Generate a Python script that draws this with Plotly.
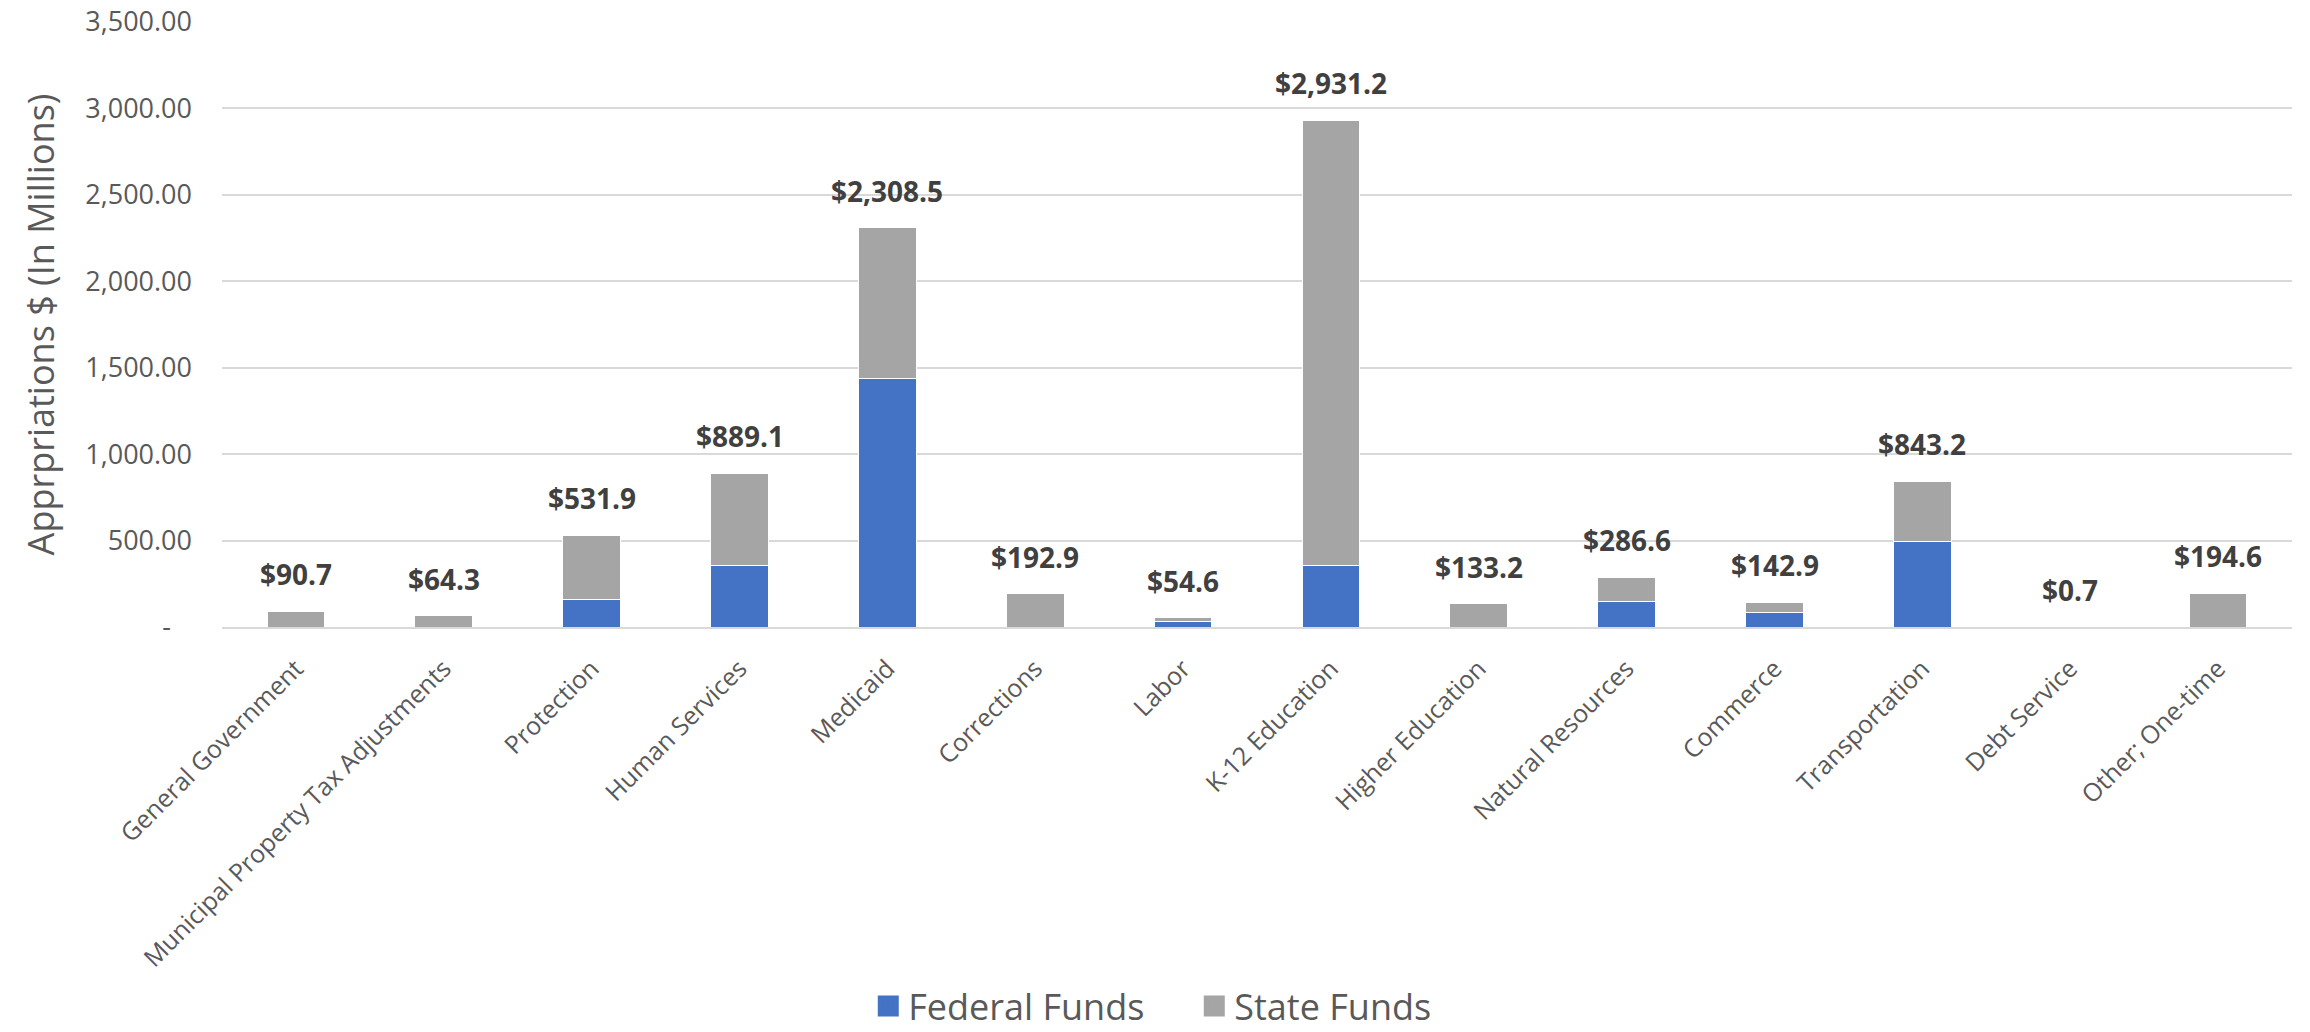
import plotly.graph_objects as go

categories = [
    "General Government", "Municipal Property Tax Adjustments", "Protection",
    "Human Services", "Medicaid", "Corrections", "Labor", "K-12 Education",
    "Higher Education", "Natural Resources", "Commerce", "Transportation",
    "Debt Service", "Other; One-time",
]
federal_funds = [0.0, 0.0, 162.0, 358.0, 1437.0, 0.0, 30.0, 353.0, 0.0, 150.0, 82.0, 492.0, 0.0, 0.0]
state_funds = [90.7, 64.3, 369.9, 531.1, 871.5, 192.9, 24.6, 2578.2, 133.2, 136.6, 60.9, 351.2, 0.7, 194.6]
totals = [90.7, 64.3, 531.9, 889.1, 2308.5, 192.9, 54.6, 2931.2, 133.2, 286.6, 142.9, 843.2, 0.7, 194.6]

y_tick_values = [0, 500, 1000, 1500, 2000, 2500, 3000, 3500]
y_tick_labels = ["-\u00a0\u00a0\u00a0", "500.00", "1,000.00", "1,500.00", "2,000.00", "2,500.00", "3,000.00", "3,500.00"]

series_names = ["Federal Funds", "State Funds"]
series_colors = ["#4472C4", "#A5A5A5"]

FONT = "Open Sans"
TXT = "#595959"

fig = go.Figure()
for name, vals, col in zip(series_names, [federal_funds, state_funds], series_colors):
    fig.add_trace(go.Bar(
        name=name, x=categories, y=vals, showlegend=False,
        marker=dict(color=col, line=dict(color="white", width=1)),
    ))
# legend entries with larger square swatches
for name, col in zip(series_names, series_colors):
    fig.add_trace(go.Scatter(
        name=name, x=[None], y=[None], mode="markers",
        marker=dict(symbol="square", size=16, color=col, line=dict(color=col, width=5)),
        showlegend=True,
    ))

annotations = []
for cat, tot in zip(categories, totals):
    annotations.append(dict(
        x=cat, y=tot, xref="x", yref="y", text=f"<b>${tot:,.1f}</b>",
        showarrow=False, yshift=37, yanchor="middle", xanchor="center",
        font=dict(family=FONT, size=28, color="#404040"),
    ))

fig.update_layout(
    width=2310, height=1032,
    barmode="stack", bargap=0.61,
    plot_bgcolor="white", paper_bgcolor="white",
    margin=dict(l=222, r=18, t=22, b=405, autoexpand=False),
    font=dict(family=FONT, color=TXT),
    annotations=annotations,
    legend=dict(
        orientation="h", x=0.517, xanchor="center", xref="container",
        y=0.025, yanchor="middle", yref="container",
        font=dict(family=FONT, size=36, color=TXT),
        itemsizing="trace", traceorder="normal", itemwidth=30,
        entrywidth=281, entrywidthmode="pixels",
    ),
    showlegend=True,
)
fig.update_xaxes(
    tickangle=-45, tickfont=dict(family=FONT, size=25, color=TXT),
    showline=True, linecolor="#D9D9D9", linewidth=2,
    showgrid=False, ticks="", ticklabelstandoff=15, automargin=False,
)
fig.update_yaxes(
    range=[0, 3500], tickvals=y_tick_values, ticktext=y_tick_labels,
    tickfont=dict(family=FONT, size=27, color=TXT),
    showgrid=True, gridcolor="#D9D9D9", gridwidth=2,
    zeroline=False, showline=False, ticks="", ticklabelstandoff=29, automargin=False,
    title=dict(text="Apprpriations $ (In Millions)", font=dict(family=FONT, size=36, color=TXT), standoff=19),
)

fig.write_html("out.html", config={"displayModeBar": False},
               post_script="document.body.style.margin='0';")
